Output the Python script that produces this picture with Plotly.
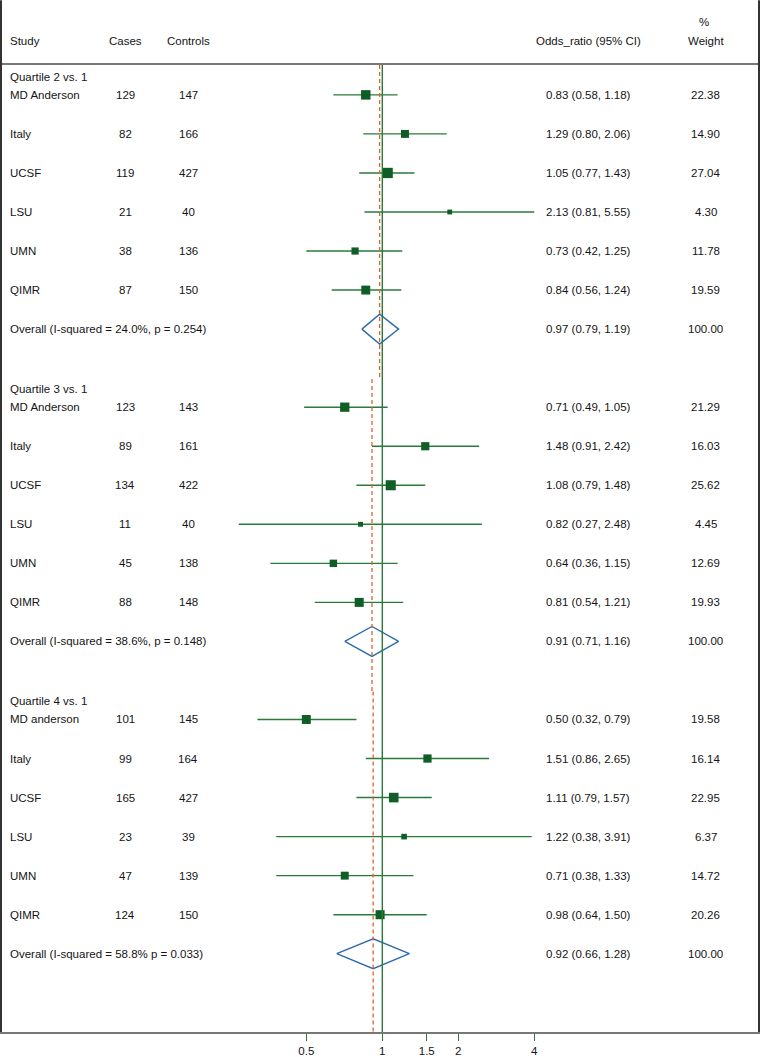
import math
import plotly.graph_objects as go

# ---------------- data ----------------
groups = ["Quartile 2 vs. 1", "Quartile 3 vs. 1", "Quartile 4 vs. 1"]
studies = [
    ["MD Anderson", "Italy", "UCSF", "LSU", "UMN", "QIMR"],
    ["MD Anderson", "Italy", "UCSF", "LSU", "UMN", "QIMR"],
    ["MD anderson", "Italy", "UCSF", "LSU", "UMN", "QIMR"],
]
cases = [
    [129, 82, 119, 21, 38, 87],
    [123, 89, 134, 11, 45, 88],
    [101, 99, 165, 23, 47, 124],
]
controls = [
    [147, 166, 427, 40, 136, 150],
    [143, 161, 422, 40, 138, 148],
    [145, 164, 427, 39, 139, 150],
]
or_labels = [
    ["0.83 (0.58, 1.18)", "1.29 (0.80, 2.06)", "1.05 (0.77, 1.43)",
     "2.13 (0.81, 5.55)", "0.73 (0.42, 1.25)", "0.84 (0.56, 1.24)"],
    ["0.71 (0.49, 1.05)", "1.48 (0.91, 2.42)", "1.08 (0.79, 1.48)",
     "0.82 (0.27, 2.48)", "0.64 (0.36, 1.15)", "0.81 (0.54, 1.21)"],
    ["0.50 (0.32, 0.79)", "1.51 (0.86, 2.65)", "1.11 (0.79, 1.57)",
     "1.22 (0.38, 3.91)", "0.71 (0.38, 1.33)", "0.98 (0.64, 1.50)"],
]
weights = [
    [22.38, 14.90, 27.04, 4.30, 11.78, 19.59],
    [21.29, 16.03, 25.62, 4.45, 12.69, 19.93],
    [19.58, 16.14, 22.95, 6.37, 14.72, 20.26],
]
weight_labels = [
    ["22.38", "14.90", "27.04", "4.30", "11.78", "19.59"],
    ["21.29", "16.03", "25.62", "4.45", "12.69", "19.93"],
    ["19.58", "16.14", "22.95", "6.37", "14.72", "20.26"],
]
# plotted estimates as drawn in the picture
or_est = [
    [0.86, 1.23, 1.05, 1.85, 0.78, 0.86],
    [0.71, 1.48, 1.08, 0.82, 0.64, 0.81],
    [0.50, 1.51, 1.11, 1.22, 0.71, 0.98],
]
ci_lo = [
    [0.64, 0.84, 0.81, 0.85, 0.50, 0.63],
    [0.49, 0.91, 0.79, 0.27, 0.36, 0.54],
    [0.32, 0.86, 0.79, 0.38, 0.38, 0.64],
]
ci_hi = [
    [1.15, 1.80, 1.34, 4.00, 1.20, 1.19],
    [1.05, 2.42, 1.48, 2.48, 1.15, 1.21],
    [0.79, 2.65, 1.57, 3.91, 1.33, 1.50],
]
overall_labels = [
    "Overall (I-squared = 24.0%, p = 0.254)",
    "Overall (I-squared = 38.6%, p = 0.148)",
    "Overall (I-squared = 58.8% p = 0.033)",
]
overall_or_labels = ["0.97 (0.79, 1.19)", "0.91 (0.71, 1.16)", "0.92 (0.66, 1.28)"]
overall_est = [0.976, 0.91, 0.92]
overall_lo = [0.83, 0.71, 0.66]
overall_hi = [1.16, 1.16, 1.28]
tick_vals = [0.5, 1, 1.5, 2, 4]
tick_text = ["0.5", "1", "1.5", "2", "4"]

# ---------------- layout constants ----------------
W, H = 760, 1057
TOP, BOT = 65, 1036
ROW0, ROWH = 95.0, 39.2
PX_PER_LN = 109.6
X_ONE = 382.3

def px2row(p):
    return (p - ROW0) / ROWH

def px2paper(p):
    return (BOT - p) / (BOT - TOP)

FONT = "Liberation Sans, Arial, Helvetica, sans-serif"
FS = 11.5
TXT = "#141414"
GREEN = "#2a7a3a"
MARK = "#0f5e26"
RED = "#e2622c"
BLUE = "#2b6cae"

fig = go.Figure()

lx, ly, mx, my, ms = [], [], [], [], []
dx, dy = [], []
for g in range(3):
    for i in range(6):
        k = 8 * g + i
        lx += [ci_lo[g][i], ci_hi[g][i], None]
        ly += [k, k, None]
        mx.append(or_est[g][i])
        my.append(k)
        ms.append(1.75 * math.sqrt(weights[g][i]) + 1.2)
    k = 8 * g + 6
    hh = 15.0 / ROWH
    dx += [overall_lo[g], overall_est[g], overall_hi[g], overall_est[g], overall_lo[g], None]
    dy += [k, k - hh, k, k + hh, k, None]

fig.add_trace(go.Scatter(x=lx, y=ly, mode="lines",
                         line=dict(color=GREEN, width=1.4), hoverinfo="skip"))
fig.add_trace(go.Scatter(x=mx, y=my, mode="markers",
                         marker=dict(symbol="square", size=ms, color=MARK, opacity=1,
                                     line=dict(width=0))))
fig.add_trace(go.Scatter(x=dx, y=dy, mode="lines",
                         line=dict(color=BLUE, width=1.4), hoverinfo="skip"))

y_top = px2row(TOP)
y_bot = px2row(BOT)

shapes = []
shapes.append(dict(type="line", xref="x", yref="paper", x0=1, x1=1, y0=0, y1=1,
                   line=dict(color=GREEN, width=1.4)))
for g in range(3):
    y0 = 8 * g - 0.72 if g > 0 else y_top
    y1 = 8 * g + 7.28 if g < 2 else y_bot
    shapes.append(dict(type="line", xref="x", yref="y", x0=overall_est[g], x1=overall_est[g],
                       y0=y0, y1=y1, line=dict(color=RED, width=1.3, dash="4px,3px")))
ptop = px2paper(0)
shapes.append(dict(type="line", xref="paper", yref="paper", x0=1.0 / W, x1=1.0 / W,
                   y0=0, y1=ptop, line=dict(color="#333", width=2)))
shapes.append(dict(type="line", xref="paper", yref="paper", x0=759.0 / W, x1=759.0 / W,
                   y0=0, y1=ptop, line=dict(color="#333", width=2)))

ann = []

def txt(xpx, yval, s, align="center", yref="y"):
    ann.append(dict(xref="paper", yref=yref, x=xpx / W, y=yval, text=s, showarrow=False,
                    xanchor=align, yanchor="middle",
                    font=dict(family=FONT, size=FS, color=TXT)))

COL_STUDY, COL_CASES, COL_CTRL, COL_OR, COL_W = 8, 125, 188, 588, 705.5

hdr = px2paper(41.3)
txt(COL_STUDY, hdr, "Study", "left", "paper")
txt(COL_CASES, hdr, "Cases", "center", "paper")
txt(COL_CTRL, hdr, "Controls", "center", "paper")
txt(COL_OR, hdr, "Odds_ratio (95% CI)", "center", "paper")
txt(COL_W, hdr, "Weight", "center", "paper")
txt(COL_W - 2, px2paper(21.7), "%", "center", "paper")

for g in range(3):
    txt(COL_STUDY, 8 * g - 0.47, groups[g], "left")
    for i in range(6):
        k = 8 * g + i
        txt(COL_STUDY, k, studies[g][i], "left")
        txt(COL_CASES, k, str(cases[g][i]))
        txt(COL_CTRL, k, str(controls[g][i]))
        txt(COL_OR, k, or_labels[g][i])
        txt(COL_W, k, weight_labels[g][i])
    k = 8 * g + 6
    txt(COL_STUDY, k, overall_labels[g], "left")
    txt(COL_OR, k, overall_or_labels[g])
    txt(COL_W, k, "100.00")

xl = (0 - X_ONE) / PX_PER_LN / math.log(10)
xr = (W - X_ONE) / PX_PER_LN / math.log(10)

fig.update_layout(
    width=W, height=H,
    margin=dict(l=0, r=0, t=TOP, b=H - BOT, pad=0),
    paper_bgcolor="white", plot_bgcolor="white",
    showlegend=False,
    shapes=shapes, annotations=ann,
    font=dict(family=FONT, size=FS, color=TXT),
    xaxis=dict(type="log", range=[xl, xr], showgrid=False, zeroline=False,
               showline=True, linecolor="#777", linewidth=2, mirror=True,
               ticks="outside", ticklen=7, tickwidth=1.3, tickcolor=GREEN,
               tickvals=tick_vals, ticktext=tick_text,
               tickfont=dict(family=FONT, size=FS, color=TXT)),
    yaxis=dict(range=[y_bot, y_top], showgrid=False, zeroline=False,
               showline=False, showticklabels=False, ticks=""),
)

fig.write_html("out.html",
               config={"displayModeBar": False},
               post_script="document.body.style.margin='0';document.body.style.overflow='hidden';")
